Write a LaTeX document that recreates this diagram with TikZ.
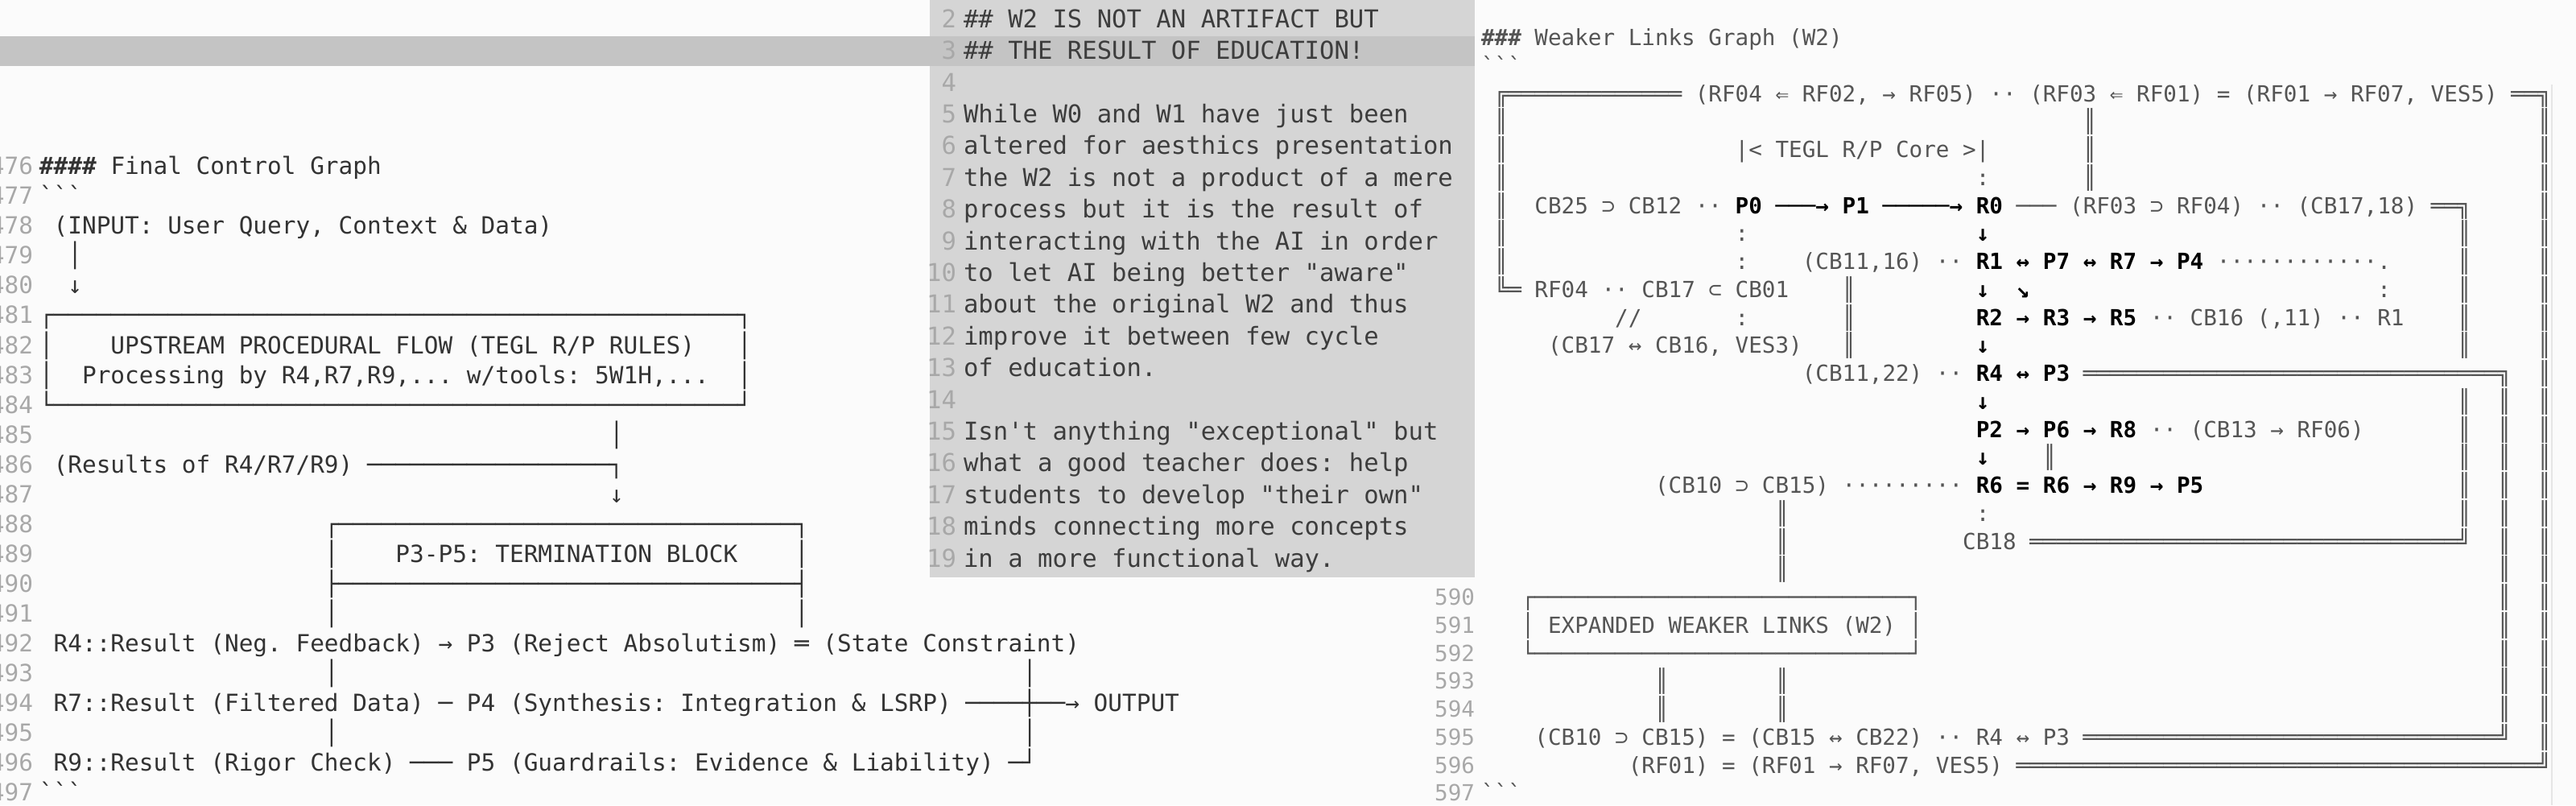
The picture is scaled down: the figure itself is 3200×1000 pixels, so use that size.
\documentclass[tikz,border=0pt]{standalone}
\usepackage{fontspec}
\setmonofont{DejaVu Sans Mono}
\usepackage{xcolor}
\ExplSyntaxOn
\cs_new:Npn \rp #1#2 { \prg_replicate:nn {#1} {#2} }
\ExplSyntaxOff
\newcommand\pad[1]{\hbox to #1\fontcharwd\font`0{}}
\newcommand\bk[1]{{\bfseries\color{black}#1}}
\definecolor{bgc}{HTML}{FBFBFB}
\definecolor{midbg}{HTML}{D5D5D5}
\definecolor{band}{HTML}{C4C4C4}
\definecolor{lnum}{HTML}{A8A8A8}
\definecolor{ltxt}{HTML}{333333}
\definecolor{rtxt}{HTML}{555555}
\definecolor{mtxt}{HTML}{3D3D3D}
\newcommand\Lrow[3]{\node[lt] (#1) at (49,{206+(#2-476)*37.05+10.7}) {#3};}
\newcommand\Mrow[3]{\node[mt] (#1) at (1197,{23+(#2-2)*39.4+11.2}) {#3};}
\newcommand\Rrow[3]{\node[rt] (#1) at (1840,{116+(#2)*34.75+10.1}) {#3};}
\begin{document}
\begin{tikzpicture}[x=0.25pt,y=-0.25pt,
  basic/.style={anchor=base west,inner sep=0pt,outer sep=0pt},
  lt/.style={basic,font=\ttfamily\fontsize{7.35pt}{9pt}\selectfont\frenchspacing,text=ltxt},
  mt/.style={basic,font=\ttfamily\fontsize{7.65pt}{9pt}\selectfont\frenchspacing,text=mtxt},
  rt/.style={basic,font=\ttfamily\fontsize{6.9pt}{8pt}\selectfont\frenchspacing,text=rtxt},
  lnl/.style={lt,anchor=base east,text=lnum},
  lnm/.style={mt,anchor=base east,text=lnum},
  lnr/.style={rt,anchor=base east,text=lnum}]
\useasboundingbox (0,0) rectangle (3200,1000);
\clip (0,0) rectangle (3200,1000);
\fill[bgc] (0,0) rectangle (3200,1000);
\fill[midbg] (1155,0) rectangle (1832,717);
\fill[band] (0,45) rectangle (1832,82);
\draw[black!10,line width=0.5pt] (3170,105) -- (3170,1000);

% ---------- left panel ----------
\foreach \n in {476,...,497} {\node[lnl] (ln\n) at (41,{206+(\n-476)*37.05+10.7}) {\n};}
\Lrow{l476}{476}{\textbf{\#\#\#\#} Final Control Graph}
\Lrow{l477}{477}{```}
\Lrow{l478}{478}{\pad{1}(INPUT: User Query, Context \& Data)}
\Lrow{l479}{479}{\pad{2}│}
\Lrow{l480}{480}{\pad{2}↓}
\Lrow{l481}{481}{┌\rp{48}{─}┐}
\Lrow{l482}{482}{│\pad{4}UPSTREAM PROCEDURAL FLOW (TEGL R/P RULES)\pad{3}│}
\Lrow{l483}{483}{│\pad{2}Processing by R4,R7,R9,... w/tools: 5W1H,...\pad{2}│}
\Lrow{l484}{484}{└\rp{48}{─}┘}
\Lrow{l485}{485}{\pad{40}│}
\Lrow{l486}{486}{\pad{1}(Results of R4/R7/R9)\pad{1}\rp{17}{─}┐}
\Lrow{l487}{487}{\pad{40}↓}
\Lrow{l488}{488}{\pad{20}┌\rp{32}{─}┐}
\Lrow{l489}{489}{\pad{20}│\pad{4}P3-P5: TERMINATION BLOCK\pad{4}│}
\Lrow{l490}{490}{\pad{20}├\rp{32}{─}┤}
\Lrow{l491}{491}{\pad{20}│\pad{32}│}
\Lrow{l492}{492}{\pad{1}R4::Result (Neg. Feedback) → P3 (Reject Absolutism) ═ (State Constraint)}
\Lrow{l493}{493}{\pad{20}│\pad{48}│}
\Lrow{l494}{494}{\pad{1}R7::Result (Filtered Data) ─ P4 (Synthesis: Integration \& LSRP) \rp{4}{─}┼\rp{2}{─}→ OUTPUT}
\Lrow{l495}{495}{\pad{20}│\pad{48}│}
\Lrow{l496}{496}{\pad{1}R9::Result (Rigor Check) ─── P5 (Guardrails: Evidence \& Liability) ─┘}
\Lrow{l497}{497}{```}

% ---------- middle panel ----------
\foreach \n in {2,...,19} {\node[lnm] (mn\n) at (1188,{23+(\n-2)*39.4+11.2}) {\n};}
\Mrow{m2}{2}{\#\# W2 IS NOT AN ARTIFACT BUT}
\Mrow{m3}{3}{\#\# THE RESULT OF EDUCATION!}
\Mrow{m5}{5}{While W0 and W1 have just been}
\Mrow{m6}{6}{altered for aesthics presentation}
\Mrow{m7}{7}{the W2 is not a product of a mere}
\Mrow{m8}{8}{process but it is the result of}
\Mrow{m9}{9}{interacting with the AI in order}
\Mrow{m10}{10}{to let AI being better "aware"}
\Mrow{m11}{11}{about the original W2 and thus}
\Mrow{m12}{12}{improve it between few cycle}
\Mrow{m13}{13}{of education.}
\Mrow{m15}{15}{Isn't anything "exceptional" but}
\Mrow{m16}{16}{what a good teacher does: help}
\Mrow{m17}{17}{students to develop "their own"}
\Mrow{m18}{18}{minds connecting more concepts}
\Mrow{m19}{19}{in a more functional way.}

% ---------- right panel ----------
\foreach \n in {590,...,597} {\node[lnr] (rn\n) at (1832,{116+(\n-572)*34.75+10.1}) {\n};}
\Rrow{r570}{-2}{\textbf{\#\#\#} Weaker Links Graph (W2)}
\Rrow{r571}{-1}{```}
\Rrow{r572}{0}{\pad{1}╔\rp{13}{═}\pad{1}(RF04 ⇐ RF02, → RF05) ·· (RF03 ⇐ RF01) = (RF01 → RF07, VES5)\pad{1}══╗}
\Rrow{r573}{1}{\pad{1}║\pad{43}║\pad{33}║}
\Rrow{r574}{2}{\pad{1}║\pad{17}|< TEGL R/P Core >|\pad{7}║\pad{33}║}
\Rrow{r575}{3}{\pad{1}║\pad{35}:\pad{7}║\pad{33}║}
\Rrow{r576}{4}{\pad{1}║\pad{2}CB25 ⊃ CB12 ·· \bk{P0 ───→ P1 ─────→ R0} ─── (RF03 ⊃ RF04) ·· (CB17,18) ══╗\pad{5}║}
\Rrow{r577}{5}{\pad{1}║\pad{17}:\pad{17}\bk{↓}\pad{35}║\pad{5}║}
\Rrow{r578}{6}{\pad{1}║\pad{17}:\pad{4}(CB11,16) ·· \bk{R1 ↔ P7 ↔ R7 → P4} \rp{12}{·}.\pad{5}║\pad{5}║}
\Rrow{r579}{7}{\pad{1}╚═ RF04 ·· CB17 ⊂ CB01\pad{4}║\pad{9}\bk{↓}\pad{2}\bk{↘}\pad{26}:\pad{5}║\pad{5}║}
\Rrow{r580}{8}{\pad{10}//\pad{7}:\pad{7}║\pad{9}\bk{R2 → R3 → R5} ·· CB16 (,11) ·· R1\pad{4}║\pad{5}║}
\Rrow{r581}{9}{\pad{5}(CB17 ↔ CB16, VES3)\pad{3}║\pad{9}\bk{↓}\pad{35}║\pad{5}║}
\Rrow{r582}{10}{\pad{24}(CB11,22) ·· \bk{R4 ↔ P3} \rp{31}{═}╗\pad{2}║}
\Rrow{r583}{11}{\pad{37}\bk{↓}\pad{35}║\pad{2}║\pad{2}║}
\Rrow{r584}{12}{\pad{37}\bk{P2 → P6 → R8} ·· (CB13 → RF06)\pad{7}║\pad{2}║\pad{2}║}
\Rrow{r585}{13}{\pad{37}\bk{↓}\pad{4}║\pad{30}║\pad{2}║\pad{2}║}
\Rrow{r586}{14}{\pad{13}(CB10 ⊃ CB15) \rp{9}{·} \bk{R6 = R6 → R9 → P5}\pad{19}║\pad{2}║\pad{2}║}
\Rrow{r587}{15}{\pad{22}║\pad{14}:\pad{35}║\pad{2}║\pad{2}║}
\Rrow{r588}{16}{\pad{22}║\pad{13}CB18 \rp{32}{═}╝\pad{2}║\pad{2}║}
\Rrow{r589}{17}{\pad{22}║\pad{53}║\pad{2}║}
\Rrow{r590}{18}{\pad{3}┌\rp{28}{─}┐\pad{43}║\pad{2}║}
\Rrow{r591}{19}{\pad{3}│\pad{1}EXPANDED WEAKER LINKS (W2)\pad{1}│\pad{43}║\pad{2}║}
\Rrow{r592}{20}{\pad{3}└\rp{28}{─}┘\pad{43}║\pad{2}║}
\Rrow{r593}{21}{\pad{13}║\pad{8}║\pad{53}║\pad{2}║}
\Rrow{r594}{22}{\pad{13}║\pad{8}║\pad{53}║\pad{2}║}
\Rrow{r595}{23}{\pad{4}(CB10 ⊃ CB15) = (CB15 ↔ CB22) ·· R4 ↔ P3 \rp{31}{═}╝\pad{2}║}
\Rrow{r596}{24}{\pad{11}(RF01) = (RF01 → RF07, VES5) \rp{39}{═}╝}
\Rrow{r597}{25}{```}
\end{tikzpicture}
\end{document}
